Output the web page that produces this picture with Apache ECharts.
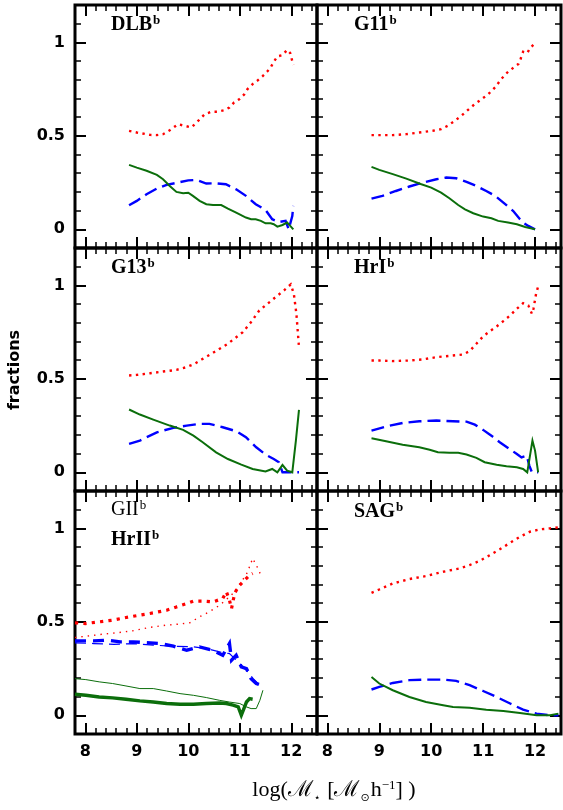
<!DOCTYPE html>
<html>
<head>
<meta charset="utf-8">
<script src="https://cdn.jsdelivr.net/npm/echarts@6/dist/echarts.min.js"></script>
<style>html,body{margin:0;padding:0;background:#fff}#c{width:563px;height:810px}</style>
</head>
<body>
<div id="c"></div>
<script>
// ---------- tick labels ----------
const xTicks = [8, 9, 10, 11, 12];
const xMinor = [8.2,8.4,8.6,8.8,9.2,9.4,9.6,9.8,10.2,10.4,10.6,10.8,11.2,11.4,11.6,11.8,12.2,12.4];
const yTicks = [0, 0.5, 1];
const yMinor = [0.1,0.2,0.3,0.4,0.6,0.7,0.8,0.9,1.1];
const panelTitles = ['DLB', 'G11', 'G13', 'HrI', 'HrII', 'SAG'];

// ---------- data: [log M*, fraction] ----------
const DLB_red = [[8.85,0.527],[9.0,0.518],[9.26,0.505],[9.39,0.504],[9.51,0.509],[9.64,0.53],[9.8,0.562],[9.93,0.554],[10.06,0.545],[10.16,0.571],[10.32,0.616],[10.45,0.629],[10.57,0.629],[10.7,0.637],[10.8,0.652],[10.89,0.679],[10.99,0.696],[11.09,0.723],[11.15,0.75],[11.25,0.777],[11.34,0.795],[11.44,0.818],[11.53,0.843],[11.6,0.866],[11.66,0.896],[11.73,0.925],[11.83,0.932],[11.92,0.96],[11.98,0.943],[12.01,0.91],[12.04,0.879]];
const DLB_blue = [[8.85,0.129],[9.0,0.152],[9.19,0.188],[9.39,0.218],[9.58,0.238],[9.8,0.25],[10.0,0.262],[10.16,0.264],[10.35,0.245],[10.54,0.246],[10.73,0.241],[10.93,0.214],[11.12,0.179],[11.31,0.134],[11.5,0.104],[11.63,0.054],[11.76,0.039],[11.89,0.045],[11.95,0.0],[12.02,0.071],[12.04,0.125]];
const DLB_green = [[8.85,0.345],[9.0,0.33],[9.19,0.313],[9.39,0.291],[9.51,0.268],[9.64,0.232],[9.77,0.2],[9.9,0.193],[10.0,0.196],[10.09,0.179],[10.22,0.152],[10.35,0.134],[10.48,0.13],[10.64,0.13],[10.77,0.111],[10.93,0.089],[11.12,0.063],[11.22,0.054],[11.31,0.054],[11.41,0.045],[11.5,0.032],[11.6,0.032],[11.66,0.027],[11.73,0.014],[11.83,0.023],[11.92,0.036],[11.98,0.018],[12.04,0.0]];

const G11_red = [[8.85,0.504],[9.0,0.504],[9.26,0.504],[9.52,0.509],[9.77,0.518],[10.03,0.527],[10.19,0.536],[10.32,0.554],[10.45,0.58],[10.58,0.607],[10.71,0.639],[10.84,0.67],[10.97,0.696],[11.1,0.723],[11.23,0.759],[11.35,0.804],[11.48,0.843],[11.59,0.866],[11.68,0.884],[11.72,0.91],[11.77,0.95],[11.85,0.943],[11.9,0.968],[12.0,0.996]];
const G11_blue = [[8.85,0.164],[9.06,0.179],[9.32,0.205],[9.58,0.229],[9.84,0.25],[10.1,0.268],[10.29,0.277],[10.48,0.273],[10.68,0.254],[10.87,0.232],[11.06,0.205],[11.23,0.179],[11.39,0.143],[11.58,0.098],[11.71,0.054],[11.77,0.036],[11.87,0.018],[12.0,0.0]];
const G11_green = [[8.85,0.334],[9.0,0.318],[9.26,0.295],[9.52,0.271],[9.81,0.241],[10.0,0.223],[10.19,0.196],[10.35,0.166],[10.52,0.13],[10.65,0.107],[10.81,0.086],[11.0,0.068],[11.16,0.059],[11.29,0.045],[11.48,0.036],[11.65,0.027],[11.81,0.0125],[12.0,0.0]];

const G13_red = [[8.85,0.518],[9.0,0.521],[9.26,0.53],[9.51,0.539],[9.77,0.548],[9.96,0.562],[10.12,0.58],[10.28,0.607],[10.45,0.634],[10.61,0.661],[10.77,0.688],[10.89,0.714],[11.06,0.75],[11.22,0.804],[11.38,0.866],[11.54,0.902],[11.7,0.938],[11.86,0.973],[11.99,1.005],[12.05,0.955],[12.1,0.848],[12.13,0.741],[12.15,0.67]];
const G13_blue = [[8.85,0.152],[9.06,0.17],[9.39,0.214],[9.71,0.238],[9.97,0.25],[10.22,0.259],[10.41,0.259],[10.67,0.241],[10.93,0.22],[11.12,0.188],[11.32,0.134],[11.5,0.095],[11.66,0.071],[11.76,0.054],[11.83,0.0],[12.02,0.0],[12.15,0.0]];
const G13_green = [[8.85,0.336],[9.06,0.309],[9.32,0.282],[9.64,0.25],[9.9,0.227],[10.1,0.196],[10.28,0.161],[10.54,0.107],[10.77,0.071],[11.03,0.041],[11.25,0.018],[11.5,0.005],[11.63,0.018],[11.73,0.0],[11.83,0.039],[11.92,0.009],[12.02,0.0],[12.09,0.17],[12.15,0.334]];

const HrI_red = [[8.85,0.598],[9.0,0.598],[9.26,0.595],[9.58,0.598],[9.84,0.604],[10.1,0.616],[10.35,0.623],[10.61,0.63],[10.74,0.648],[10.87,0.688],[11.0,0.727],[11.13,0.755],[11.26,0.78],[11.39,0.809],[11.52,0.839],[11.65,0.875],[11.77,0.905],[11.87,0.893],[11.94,0.848],[11.97,0.875],[12.02,0.955],[12.06,0.995]];
const HrI_blue = [[8.85,0.223],[9.13,0.245],[9.45,0.264],[9.77,0.273],[10.1,0.277],[10.42,0.273],[10.68,0.271],[10.84,0.255],[11.0,0.227],[11.16,0.196],[11.32,0.161],[11.48,0.13],[11.65,0.098],[11.74,0.08],[11.84,0.089],[11.89,0.036],[11.94,0.0],[12.06,0.0]];
const HrI_green = [[8.85,0.182],[9.13,0.166],[9.45,0.148],[9.77,0.134],[9.97,0.121],[10.13,0.107],[10.35,0.104],[10.52,0.104],[10.68,0.095],[10.87,0.077],[11.03,0.054],[11.26,0.041],[11.45,0.032],[11.65,0.027],[11.77,0.018],[11.85,0.0],[11.95,0.17],[12.0,0.116],[12.06,0.0]];

const HrII_red = [[7.8,0.495],[8.01,0.491],[8.27,0.5],[8.53,0.509],[8.79,0.523],[9.06,0.536],[9.32,0.548],[9.58,0.562],[9.77,0.58],[9.97,0.598],[10.1,0.611],[10.29,0.611],[10.48,0.607],[10.67,0.625],[10.74,0.661],[10.8,0.616],[10.84,0.571],[10.9,0.652],[10.97,0.688],[11.06,0.714],[11.16,0.741],[11.22,0.755],[11.25,0.759]];
const GII_red = [[7.8,0.416],[8.01,0.423],[8.34,0.434],[8.66,0.443],[8.92,0.452],[9.24,0.47],[9.56,0.482],[9.82,0.488],[10.03,0.495],[10.22,0.527],[10.41,0.554],[10.61,0.589],[10.8,0.634],[10.93,0.67],[11.03,0.714],[11.13,0.755],[11.19,0.795],[11.25,0.839],[11.32,0.804],[11.41,0.75]];
const HrII_blue = [[7.8,0.398],[8.16,0.398],[8.42,0.402],[8.68,0.393],[8.93,0.393],[9.19,0.388],[9.45,0.384],[9.71,0.37],[9.97,0.348],[10.22,0.366],[10.48,0.348],[10.67,0.321],[10.8,0.384],[10.84,0.295],[10.93,0.321],[11.03,0.259],[11.13,0.25],[11.22,0.196],[11.32,0.17],[11.42,0.161]];
const GII_blue = [[7.8,0.388],[8.16,0.384],[8.55,0.38],[8.93,0.384],[9.32,0.375],[9.71,0.37],[10.1,0.366],[10.35,0.357],[10.61,0.339],[10.8,0.33],[11.0,0.277],[11.13,0.241],[11.26,0.196],[11.39,0.161],[11.45,0.143]];
const HrII_green = [[7.8,0.113],[8.01,0.107],[8.27,0.098],[8.53,0.093],[8.79,0.086],[9.06,0.077],[9.32,0.071],[9.58,0.063],[9.84,0.059],[10.1,0.059],[10.35,0.063],[10.61,0.066],[10.74,0.063],[10.87,0.054],[10.97,0.045],[11.03,0.0],[11.13,0.071],[11.19,0.089],[11.25,0.086]];
const GII_green = [[7.8,0.196],[8.01,0.191],[8.27,0.179],[8.53,0.17],[8.79,0.157],[9.06,0.143],[9.32,0.143],[9.58,0.13],[9.84,0.116],[10.1,0.107],[10.35,0.095],[10.61,0.08],[10.8,0.071],[11.0,0.063],[11.13,0.045],[11.22,0.036],[11.32,0.036],[11.39,0.08],[11.45,0.134]];

const SAG_red = [[8.85,0.655],[9.0,0.673],[9.26,0.705],[9.58,0.729],[9.9,0.745],[10.23,0.768],[10.55,0.786],[10.74,0.804],[10.94,0.827],[11.13,0.857],[11.32,0.888],[11.52,0.923],[11.71,0.955],[11.9,0.982],[12.1,0.995],[12.29,1.0],[12.45,1.005]];
const SAG_blue = [[8.85,0.138],[9.0,0.152],[9.26,0.173],[9.58,0.188],[9.9,0.191],[10.23,0.191],[10.48,0.184],[10.74,0.161],[11.0,0.13],[11.26,0.098],[11.52,0.063],[11.77,0.03],[12.03,0.009],[12.29,0.0],[12.45,0.0]];
const SAG_green = [[8.85,0.205],[9.0,0.17],[9.26,0.134],[9.58,0.098],[9.9,0.071],[10.23,0.054],[10.42,0.045],[10.74,0.041],[11.06,0.03],[11.39,0.023],[11.71,0.0125],[12.03,0.0],[12.29,0.0],[12.45,0.009]];

// ---------- layout ----------
const COLS = [{left:75,width:242},{left:317,width:244}];
const ROWS = [{top:5,height:243},{top:248,height:243},{top:491,height:243}];
const RED = '#ff0000', BLUE = '#0000ff', GREEN = '#0b6e0b';
const DOT = [2.4, 4.4], DASH = [13, 6];

const grids = [], xAxes = [], yAxes = [], series = [];
for (let g = 0; g < 6; g++) {
  const r = Math.floor(g / 2), c = g % 2;
  grids.push({left: COLS[c].left, top: ROWS[r].top, width: COLS[c].width, height: ROWS[r].height,
    show: true, borderColor: '#000', borderWidth: 3, backgroundColor: 'transparent', containLabel: false});
  const showX = r === 2, showY = c === 0;
  const lblStyle = {fontFamily: 'DejaVu Sans', fontWeight: 'bold', fontSize: 16, color: '#000'};
  const xb = {type: 'value', gridIndex: g, min: 7.8, max: 12.5, splitLine: {show: false},
    axisLine: {show: false, onZero: false}};
  const yb = {type: 'value', gridIndex: g, min: -0.1, max: 1.2, splitLine: {show: false},
    axisLine: {show: false, onZero: false}};
  const major = (vals) => ({show: true, inside: true, length: 11, customValues: vals, lineStyle: {color: '#000', width: 2}});
  const minor = (vals) => ({show: true, inside: true, length: 6, customValues: vals, lineStyle: {color: '#000', width: 1.5}});
  xAxes.push(
    Object.assign({}, xb, {position: 'bottom', axisTick: major(xTicks),
      axisLabel: Object.assign({show: showX, customValues: xTicks, margin: 10}, lblStyle)}),
    Object.assign({}, xb, {position: 'bottom', axisTick: minor(xMinor), axisLabel: {show: false}}),
    Object.assign({}, xb, {position: 'top', axisTick: major(xTicks), axisLabel: {show: false}}),
    Object.assign({}, xb, {position: 'top', axisTick: minor(xMinor), axisLabel: {show: false}})
  );
  yAxes.push(
    Object.assign({}, yb, {position: 'left', axisTick: major(yTicks),
      axisLabel: Object.assign({show: showY, customValues: yTicks, margin: 10}, lblStyle)}),
    Object.assign({}, yb, {position: 'left', axisTick: minor(yMinor), axisLabel: {show: false}}),
    Object.assign({}, yb, {position: 'right', axisTick: major(yTicks), axisLabel: {show: false}}),
    Object.assign({}, yb, {position: 'right', axisTick: minor(yMinor), axisLabel: {show: false}})
  );
}

function line(g, data, color, type, width) {
  series.push({type: 'line', xAxisIndex: 4 * g, yAxisIndex: 4 * g, data: data,
    showSymbol: false, symbol: 'none', silent: true, animation: false,
    lineStyle: {color: color, type: type, width: width, cap: 'butt', join: 'miter'}});
}
line(0, DLB_red, RED, DOT, 2.4); line(0, DLB_blue, BLUE, DASH, 2.4); line(0, DLB_green, GREEN, 'solid', 2);
line(1, G11_red, RED, DOT, 2.4); line(1, G11_blue, BLUE, DASH, 2.4); line(1, G11_green, GREEN, 'solid', 2);
line(2, G13_red, RED, DOT, 2.4); line(2, G13_blue, BLUE, DASH, 2.4); line(2, G13_green, GREEN, 'solid', 2);
line(3, HrI_red, RED, DOT, 2.4); line(3, HrI_blue, BLUE, DASH, 2.4); line(3, HrI_green, GREEN, 'solid', 2);
line(4, GII_red, RED, [1.4, 5], 1.4); line(4, GII_blue, BLUE, [11, 6], 1.2); line(4, GII_green, GREEN, 'solid', 1);
line(4, HrII_red, RED, [3.2, 5.2], 3.2); line(4, HrII_blue, BLUE, [11, 7], 3.4); line(4, HrII_green, GREEN, 'solid', 3.4);
line(5, SAG_red, RED, DOT, 2.4); line(5, SAG_blue, BLUE, DASH, 2.4); line(5, SAG_green, GREEN, 'solid', 2);

// ---------- text ----------
const serif = 'Liberation Serif, DejaVu Serif, serif';
const richBold = {
  m: {fontFamily: serif, fontWeight: 'bold', fontSize: 20, lineHeight: 22, color: '#000'},
  s: {fontFamily: serif, fontWeight: 'bold', fontSize: 13, lineHeight: 22, verticalAlign: 'top', color: '#000', padding: [0, 0, 0, 1]},
  mr: {fontFamily: serif, fontWeight: 'normal', fontSize: 20, lineHeight: 22, color: '#000'},
  sr: {fontFamily: serif, fontWeight: 'normal', fontSize: 13, lineHeight: 22, verticalAlign: 'top', color: '#000', padding: [0, 0, 0, 1]}
};
const titlePos = [[111, 14], [354, 14], [111, 257], [354, 257], [111, 529], [354, 501]];
const titles = panelTitles.map((t, i) => ({
  text: '{m|' + t + '}{s|b}', left: titlePos[i][0], top: titlePos[i][1], padding: 0,
  textStyle: {rich: richBold}
}));
titles.push({text: '{mr|GII}{sr|b}', left: 111, top: 499, padding: 0, textStyle: {rich: richBold}});

const option = {
  animation: false,
  backgroundColor: '#fff',
  grid: grids, xAxis: xAxes, yAxis: yAxes, series: series,
  title: titles,
  graphic: [
    {type: 'text', x: 15, y: 370, rotation: Math.PI / 2,
      style: {text: 'fractions', font: 'bold 16px "DejaVu Sans"', fill: '#000', align: 'center', verticalAlign: 'middle'}},
    {type: 'text', x: 334, y: 790,
      style: {
        text: '{n|log(ℳ}{b|⋆}{n| [ℳ}{b|⊙}{n|h}{t|−1}{n|] )}',
        align: 'center', verticalAlign: 'middle',
        rich: {
          n: {fontFamily: serif, fontSize: 22, lineHeight: 28, color: '#000'},
          b: {fontFamily: 'DejaVu Sans', fontSize: 11, lineHeight: 28, verticalAlign: 'bottom', color: '#000', padding: [0, 1, 0, 1]},
          t: {fontFamily: serif, fontSize: 13, lineHeight: 28, verticalAlign: 'top', color: '#000', padding: [3, 0, 0, 0]}
        }
      }}
  ]
};
const chart = echarts.init(document.getElementById('c'), null, {renderer: 'canvas'});
chart.setOption(option);
</script>
</body>
</html>
